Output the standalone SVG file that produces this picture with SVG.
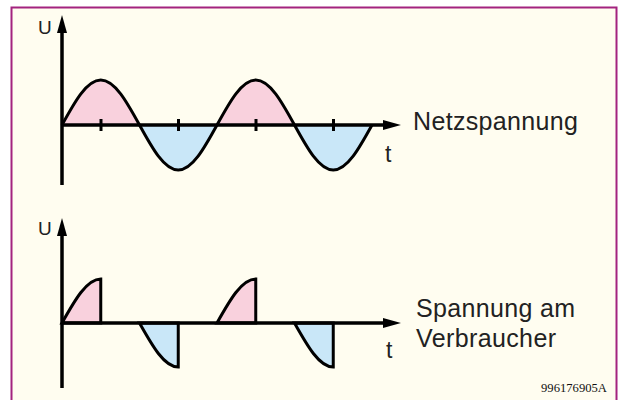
<svg xmlns="http://www.w3.org/2000/svg" width="623" height="400" viewBox="0 0 623 400">
<style>
.ax{stroke:#000;stroke-width:3.5;fill:none}
.tick{stroke:#000;stroke-width:3;fill:none}
.wave{stroke:#000;stroke-width:3;fill:none;stroke-linejoin:round}
.pos{fill:#F9D1DD;stroke:none}
.neg{fill:#C9E7F8;stroke:none}
.cut{stroke:#000;stroke-width:3;stroke-linejoin:miter}
.lbl{font-family:"Liberation Sans",Arial,Helvetica,sans-serif;fill:#222}
.code{font-family:"Liberation Serif","Times New Roman",serif;font-size:12.5px;fill:#111}
</style>
<defs>
<marker id="ah" markerUnits="userSpaceOnUse" markerWidth="20" markerHeight="12" refX="2" refY="5" orient="auto">
<path d="M0,0 L18,5 L0,10 Z" fill="#000"/>
</marker>
</defs>
<rect x="0" y="0" width="623" height="400" fill="#FFFFFF"/>
<rect x="11.5" y="7.5" width="605" height="400" fill="#FFFDF0" stroke="#A3237F" stroke-width="2"/>

<g id="top-graph">
<path class="pos" d="M62,125 C74.64,101.95 86.73,80 100.75,80 C114.77,80 126.86,101.95 139.5,125 Z"/>
<path class="neg" d="M139.5,125 C152.14,148.05 164.23,170 178.25,170 C192.27,170 204.36,148.05 217,125 Z"/>
<path class="pos" d="M217,125 C229.64,101.95 241.73,80 255.75,80 C269.77,80 281.86,101.95 294.5,125 Z"/>
<path class="neg" d="M294.5,125 C307.14,148.05 319.23,170 333.25,170 C347.27,170 359.36,148.05 372,125 Z"/>
<path class="wave" d="M62,125 C74.64,101.95 86.73,80 100.75,80 C114.77,80 126.86,101.95 139.5,125 C152.14,148.05 164.23,170 178.25,170 C192.27,170 204.36,148.05 217,125 C229.64,101.95 241.73,80 255.75,80 C269.77,80 281.86,101.95 294.5,125 C307.14,148.05 319.23,170 333.25,170 C347.27,170 359.36,148.05 372,125"/>
<text class="lbl" x="38" y="34" font-size="19">U</text>
<text class="lbl" x="385" y="162" font-size="23">t</text>
<text class="lbl" x="413" y="130" font-size="25" textLength="165" lengthAdjust="spacing">Netzspannung</text>
</g>

<g id="bottom-graph">
<path class="pos cut" d="M62,323 C74.64,300.45 86.73,279 100.75,279 L100.75,323 Z"/>
<path class="neg cut" d="M139.5,323 C152.14,345.55 164.23,367 178.25,367 L178.25,323 Z"/>
<path class="pos cut" d="M217,323 C229.64,300.45 241.73,279 255.75,279 L255.75,323 Z"/>
<path class="neg cut" d="M294.5,323 C307.14,345.55 319.23,367 333.25,367 L333.25,323 Z"/>
<text class="lbl" x="38" y="235" font-size="19">U</text>
<text class="lbl" x="386" y="358" font-size="23">t</text>
<text class="lbl" x="416" y="317" font-size="25" textLength="159" lengthAdjust="spacing">Spannung am</text>
<text class="lbl" x="416" y="347" font-size="25" textLength="140" lengthAdjust="spacing">Verbraucher</text>
</g>

<g id="connectors">
<line class="ax" x1="62" y1="185" x2="62" y2="31" marker-end="url(#ah)"/>
<line class="ax" x1="62" y1="125" x2="385" y2="125" marker-end="url(#ah)"/>
<line class="tick" x1="101" y1="119" x2="101" y2="131"/>
<line class="tick" x1="178.5" y1="119" x2="178.5" y2="131"/>
<line class="tick" x1="256" y1="119" x2="256" y2="131"/>
<line class="tick" x1="333.5" y1="119" x2="333.5" y2="131"/>
<line class="ax" x1="62" y1="388" x2="62" y2="234" marker-end="url(#ah)"/>
<line class="ax" x1="62" y1="323" x2="385" y2="323" marker-end="url(#ah)"/>
</g>

<text class="code" x="541" y="392" textLength="66" lengthAdjust="spacingAndGlyphs">996176905A</text>
</svg>
